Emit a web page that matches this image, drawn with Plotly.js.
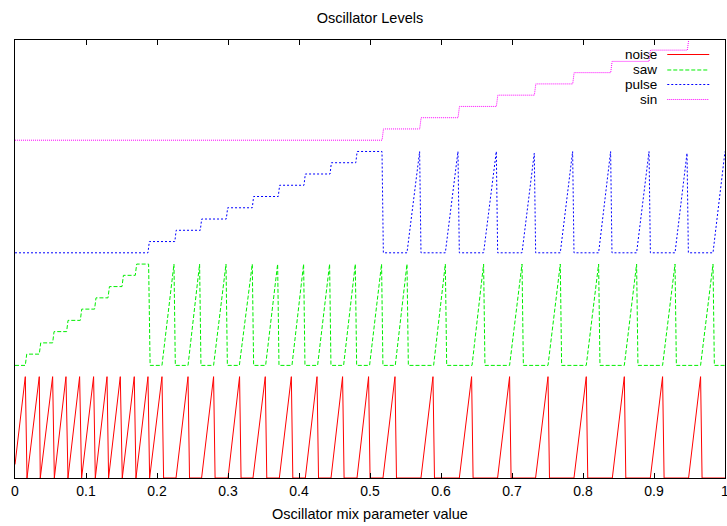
<!DOCTYPE html>
<html>
<head>
<meta charset="utf-8">
<script src="https://cdn.plot.ly/plotly-3.0.1.min.js"></script>
<style>
  html, body { margin: 0; padding: 0; background: #fff; }
  #chart { width: 727px; height: 526px; }
</style>
</head>
<body>
<div id="chart"></div>
<script>
// Level of each oscillator against the mix parameter.
// Each oscillator is stacked on its own band (noise 0, saw 1, pulse 2, sin 3).

const seriesNames = ['noise', 'saw', 'pulse', 'sin'];

const noiseX = [
  0, 0.0145, 0.0169, 0.0342, 0.0356, 0.0530, 0.0554, 0.0718, 0.0746, 0.0910, 0.0938,
  0.1107, 0.1131, 0.1296, 0.1318, 0.1483, 0.1511, 0.1680, 0.1704, 0.1873, 0.1896,
  0.2070, 0.2093,
  0.2268, 0.2437, 0.2458, 0.2628, 0.2797, 0.2818, 0.3000, 0.3163, 0.3184,
  0.3352, 0.3525, 0.3546, 0.3723, 0.3892, 0.3913, 0.4089, 0.4254, 0.4275,
  0.4451, 0.4614, 0.4635, 0.4817, 0.4980, 0.5001, 0.5183, 0.5352, 0.5373,
  0.5718, 0.5887, 0.5908, 0.6258, 0.6431, 0.6452, 0.6797, 0.6966, 0.6987,
  0.7332, 0.7507, 0.7528, 0.7873, 0.8046, 0.8067, 0.8413, 0.8582, 0.8603,
  0.8948, 0.9121, 0.9142, 0.9487, 0.9656, 0.9677, 1.0
];
const noiseY = [
  0.12, 0.9, 0, 0.9, 0, 0.9, 0, 0.9, 0, 0.9, 0,
  0.9, 0, 0.9, 0, 0.9, 0, 0.9, 0, 0.9, 0,
  0.9, 0,
  0, 0.9, 0, 0, 0.9, 0, 0, 0.9, 0,
  0, 0.9, 0, 0, 0.9, 0, 0, 0.9, 0,
  0, 0.9, 0, 0, 0.9, 0, 0, 0.9, 0,
  0, 0.9, 0, 0, 0.9, 0, 0, 0.9, 0,
  0, 0.9, 0, 0, 0.9, 0, 0, 0.9, 0,
  0, 0.9, 0, 0, 0.9, 0, 0
];

const sawX = [
  0, 0.0145, 0.0165, 0.0342, 0.0362, 0.0530, 0.0550, 0.0727, 0.0747, 0.0920, 0.0940,
  0.1121, 0.1141, 0.1310, 0.1330, 0.1507, 0.1527, 0.1694, 0.1714, 0.1882, 0.1903,
  0.2070, 0.2239, 0.2258, 0.2437, 0.2600, 0.2619, 0.2797, 0.2972, 0.2991,
  0.3160, 0.3342, 0.3361, 0.3530, 0.3699, 0.3718, 0.3901, 0.4065, 0.4084,
  0.4262, 0.4431, 0.4450, 0.4628, 0.4793, 0.4812, 0.4994, 0.5163, 0.5182,
  0.5356, 0.5521, 0.5540, 0.5896, 0.6061, 0.6080, 0.6437, 0.6600, 0.6619,
  0.6966, 0.7141, 0.7160, 0.7507, 0.7680, 0.7699, 0.8046, 0.8220, 0.8239,
  0.8582, 0.8755, 0.8774, 0.9121, 0.9296, 0.9315, 0.9656, 0.9831, 0.9850, 1.0
];
const sawY = [
  1.0, 1.0, 1.1, 1.1, 1.2, 1.2, 1.3, 1.3, 1.4, 1.4, 1.5,
  1.5, 1.6, 1.6, 1.7, 1.7, 1.8, 1.8, 1.9, 1.9, 1.0,
  1, 1.9, 1, 1, 1.9, 1, 1, 1.9, 1,
  1, 1.9, 1, 1, 1.9, 1, 1, 1.9, 1,
  1, 1.9, 1, 1, 1.9, 1, 1, 1.9, 1,
  1, 1.9, 1, 1, 1.9, 1, 1, 1.9, 1,
  1, 1.9, 1, 1, 1.9, 1, 1, 1.9, 1,
  1, 1.9, 1, 1, 1.9, 1, 1, 1.9, 1, 1
];

const pulseX = [
  0, 0.1873, 0.1892, 0.2251, 0.2270, 0.2610, 0.2629, 0.2976, 0.2995,
  0.3342, 0.3361, 0.3708, 0.3727, 0.4070, 0.4089, 0.4437, 0.4456,
  0.4800, 0.4819, 0.5169, 0.5188,
  0.5521, 0.5699, 0.5718, 0.6061, 0.6239, 0.6258, 0.6600, 0.6779, 0.6798,
  0.7141, 0.7314, 0.7333, 0.7680, 0.7854, 0.7873, 0.8220, 0.8389, 0.8408,
  0.8755, 0.8930, 0.8949, 0.9296, 0.9465, 0.9484, 0.9831, 1.0
];
const pulseY = [
  2.0, 2.0, 2.1, 2.1, 2.2, 2.2, 2.3, 2.3, 2.4,
  2.4, 2.5, 2.5, 2.6, 2.6, 2.7, 2.7, 2.8,
  2.8, 2.9, 2.9, 2.0,
  2, 2.9, 2, 2, 2.9, 2, 2, 2.9, 2,
  2, 2.885, 2, 2, 2.9, 2, 2, 2.9, 2,
  2, 2.9, 2, 2, 2.885, 2, 2, 2.9
];

const sinX = [
  0, 0.5170, 0.5190, 0.5700, 0.5720, 0.6240, 0.6260, 0.6780, 0.6800,
  0.7315, 0.7335, 0.7855, 0.7875, 0.8390, 0.8410, 0.8930, 0.8950,
  0.9470, 0.9490, 1.0
];
const sinY = [
  3.0, 3.0, 3.1, 3.1, 3.2, 3.2, 3.3, 3.3, 3.4,
  3.4, 3.5, 3.5, 3.6, 3.6, 3.7, 3.7, 3.8,
  3.8, 3.9, 3.9
];

const xTickVals = [0, 0.1, 0.2, 0.3, 0.4, 0.5, 0.6, 0.7, 0.8, 0.9, 1];
const xTickText = ['0', '0.1', '0.2', '0.3', '0.4', '0.5', '0.6', '0.7', '0.8', '0.9', '1'];

const lineStyles = [
  { color: '#ff0000', dash: 'solid' },
  { color: '#00ee00', dash: '4px,2px' },
  { color: '#0000ff', dash: '2px,2px' },
  { color: '#ff00ff', dash: '1px,1px' }
];

const xs = [noiseX, sawX, pulseX, sinX];
const ys = [noiseY, sawY, pulseY, sinY];

const traces = seriesNames.map((name, i) => ({
  type: 'scatter',
  mode: 'lines',
  name: name,
  x: xs[i],
  y: ys[i],
  line: { color: lineStyles[i].color, width: 1, dash: lineStyles[i].dash },
  showlegend: false,
  hoverinfo: 'skip'
}));

// Key in the top-right corner: label on the left, line sample on the right.
const keyRows = [0.96689, 0.93151, 0.89840, 0.86416];
const keyText = { x: 0.9061, font: 13.5 };
const keySample = { x0: 0.9187, x1: 0.9778 };

const annotations = seriesNames.map((name, i) => ({
  xref: 'paper', yref: 'paper',
  x: keyText.x, y: keyRows[i],
  xanchor: 'right', yanchor: 'middle',
  borderpad: 0,
  text: name, showarrow: false,
  font: { size: keyText.font, color: '#000' }
}));

const shapes = seriesNames.map((name, i) => ({
  type: 'line',
  xref: 'paper', yref: 'paper',
  x0: keySample.x0, x1: keySample.x1,
  y0: keyRows[i], y1: keyRows[i],
  layer: 'above',
  line: { color: lineStyles[i].color, width: 1, dash: lineStyles[i].dash }
}));

const layout = {
  width: 727,
  height: 526,
  margin: { l: 15, r: 2, t: 40, b: 48, pad: 0 },
  paper_bgcolor: '#ffffff',
  plot_bgcolor: '#ffffff',
  font: { family: '"Liberation Sans", Arial, Helvetica, sans-serif', size: 14, color: '#000' },
  title: {
    text: 'Oscillator Levels',
    x: 0.5, xref: 'paper', xanchor: 'center',
    y: 0.9658, yref: 'container', yanchor: 'middle',
    font: { size: 14.5, color: '#000' }
  },
  xaxis: {
    range: [0, 1],
    tickmode: 'array',
    tickvals: xTickVals,
    ticktext: xTickText,
    ticks: 'inside',
    ticklen: 5,
    tickwidth: 1,
    tickcolor: '#000',
    ticklabeloverflow: 'allow',
    showline: true,
    linecolor: '#000',
    linewidth: 1,
    mirror: 'ticks',
    showgrid: false,
    zeroline: false,
    automargin: false,
    tickfont: { size: 14, color: '#000' },
    title: { text: 'Oscillator mix parameter value', font: { size: 14.5, color: '#000' }, standoff: 11 }
  },
  yaxis: {
    range: [0, 3.89],
    showticklabels: false,
    ticks: '',
    showline: true,
    linecolor: '#000',
    linewidth: 1,
    mirror: true,
    showgrid: false,
    zeroline: false,
    automargin: false
  },
  annotations: annotations,
  shapes: shapes,
  showlegend: false
};

Plotly.newPlot('chart', traces, layout, { staticPlot: true, displayModeBar: false });
</script>
</body>
</html>
